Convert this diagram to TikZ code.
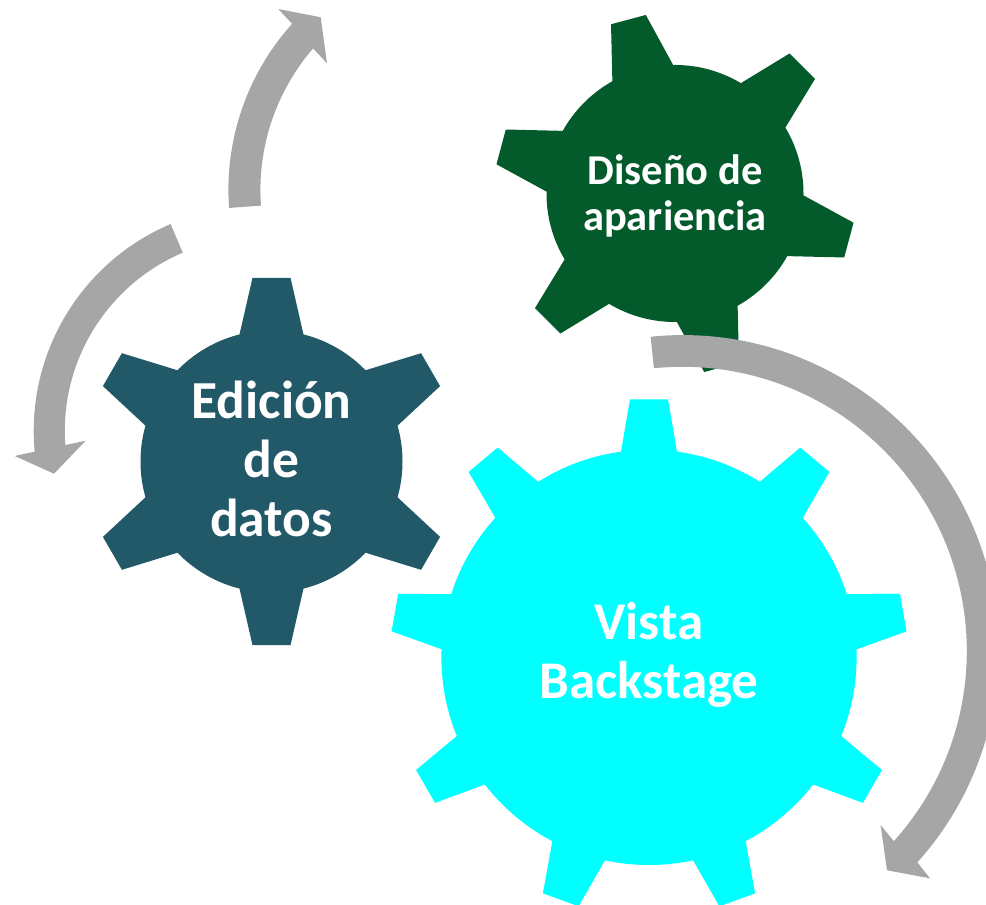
\documentclass[tikz,border=0pt]{standalone}
\usepackage{fontspec}
\setmainfont{Carlito}
\usetikzlibrary{positioning}
\definecolor{datacolor}{HTML}{215968}
\definecolor{designcolor}{HTML}{035A2B}
\definecolor{backcolor}{HTML}{00FFFF}
\definecolor{cyclecolor}{HTML}{A6A6A6}
\tikzset{x=1pt,y=1pt}
\tikzset{gearbody/.style={circle,inner sep=0pt,minimum size=#1}}
\tikzset{gearlabel/.style 2 args={text=white,align=center,inner sep=0pt,font=\bfseries\fontsize{#1}{#2}\selectfont}}
\tikzset{cyclearrow/.style={fill=cyclecolor}}
% center, angles, colour, root radius, root half width, tip radius, tip half width
\newcommand{\gearteeth}[7]{%
  \foreach \a in {#2}
    \fill[#3,shift={(#1)},rotate=\a] (#4-12,#5) -- (#4,#5) -- (#6,#7) -- (#6,-#7) -- (#4,-#5) -- (#4-12,-#5) -- cycle;
}
\begin{document}
\begin{tikzpicture}
  \useasboundingbox (0,0) rectangle (986,905);

  % gears
  \node[gearbody=262pt,fill=datacolor] (edicion) at (271.5,443.5) {};
  \gearteeth{edicion}{30,90,...,330}{datacolor}{127}{32}{183.7}{19}
  \node[gearbody=257pt,fill=designcolor] (diseno) at (675,711.5) {};
  \gearteeth{diseno}{45,105,...,345}{designcolor}{124.8}{31.4}{180}{18}
  \node[gearbody=415.2pt,fill=backcolor] (vista) at (649,247.6) {};
  \gearteeth{vista}{10,50,...,370}{backcolor}{205.7}{28}{258}{19}

  \node[gearlabel={53.5}{59},yshift=2.5pt] (edicionlabel) at (edicion) {Edición\\de\\datos};
  \node[gearlabel={42.5}{46},yshift=-2.5pt] (disenolabel) at (diseno) {Diseño de\\apariencia};
  \node[gearlabel={53}{59},yshift=2pt] (vistalabel) at (vista) {Vista\\Backstage};

  % arrows
  \coordinate (topc) at (476.4,715.2);
  \fill[cyclearrow] ([shift={(184.2:248)}]topc) arc[start angle=184.2,end angle=138,radius=248]
    -- (278.3,896) -- (320.7,887.7) -- (327,841.7)
    -- ([shift={(139.1:216)}]topc) arc[start angle=139.1,end angle=184.2,radius=216] -- cycle;
  \coordinate (leftc) at (258.4,474.1);
  \fill[cyclearrow] ([shift={(113:224.7)}]leftc) arc[start angle=113,end angle=185.3,radius=224.7]
    -- (14.7,449) -- (54,431.3) -- (85.7,464.3)
    -- ([shift={(184.2:193.6)}]leftc) arc[start angle=184.2,end angle=113,radius=193.6] -- cycle;
  \coordinate (bigc) at (682.6,254);
  \fill[cyclearrow] ([shift={(95.8:315.9)}]bigc) arc[start angle=95.8,end angle=-42,radius=315.9]
    -- (930,26.7) -- (887,34.7) -- (880.6,80)
    -- ([shift={(-42:284.2)}]bigc) arc[start angle=-42,end angle=95.8,radius=284.2] -- cycle;
\end{tikzpicture}
\end{document}
